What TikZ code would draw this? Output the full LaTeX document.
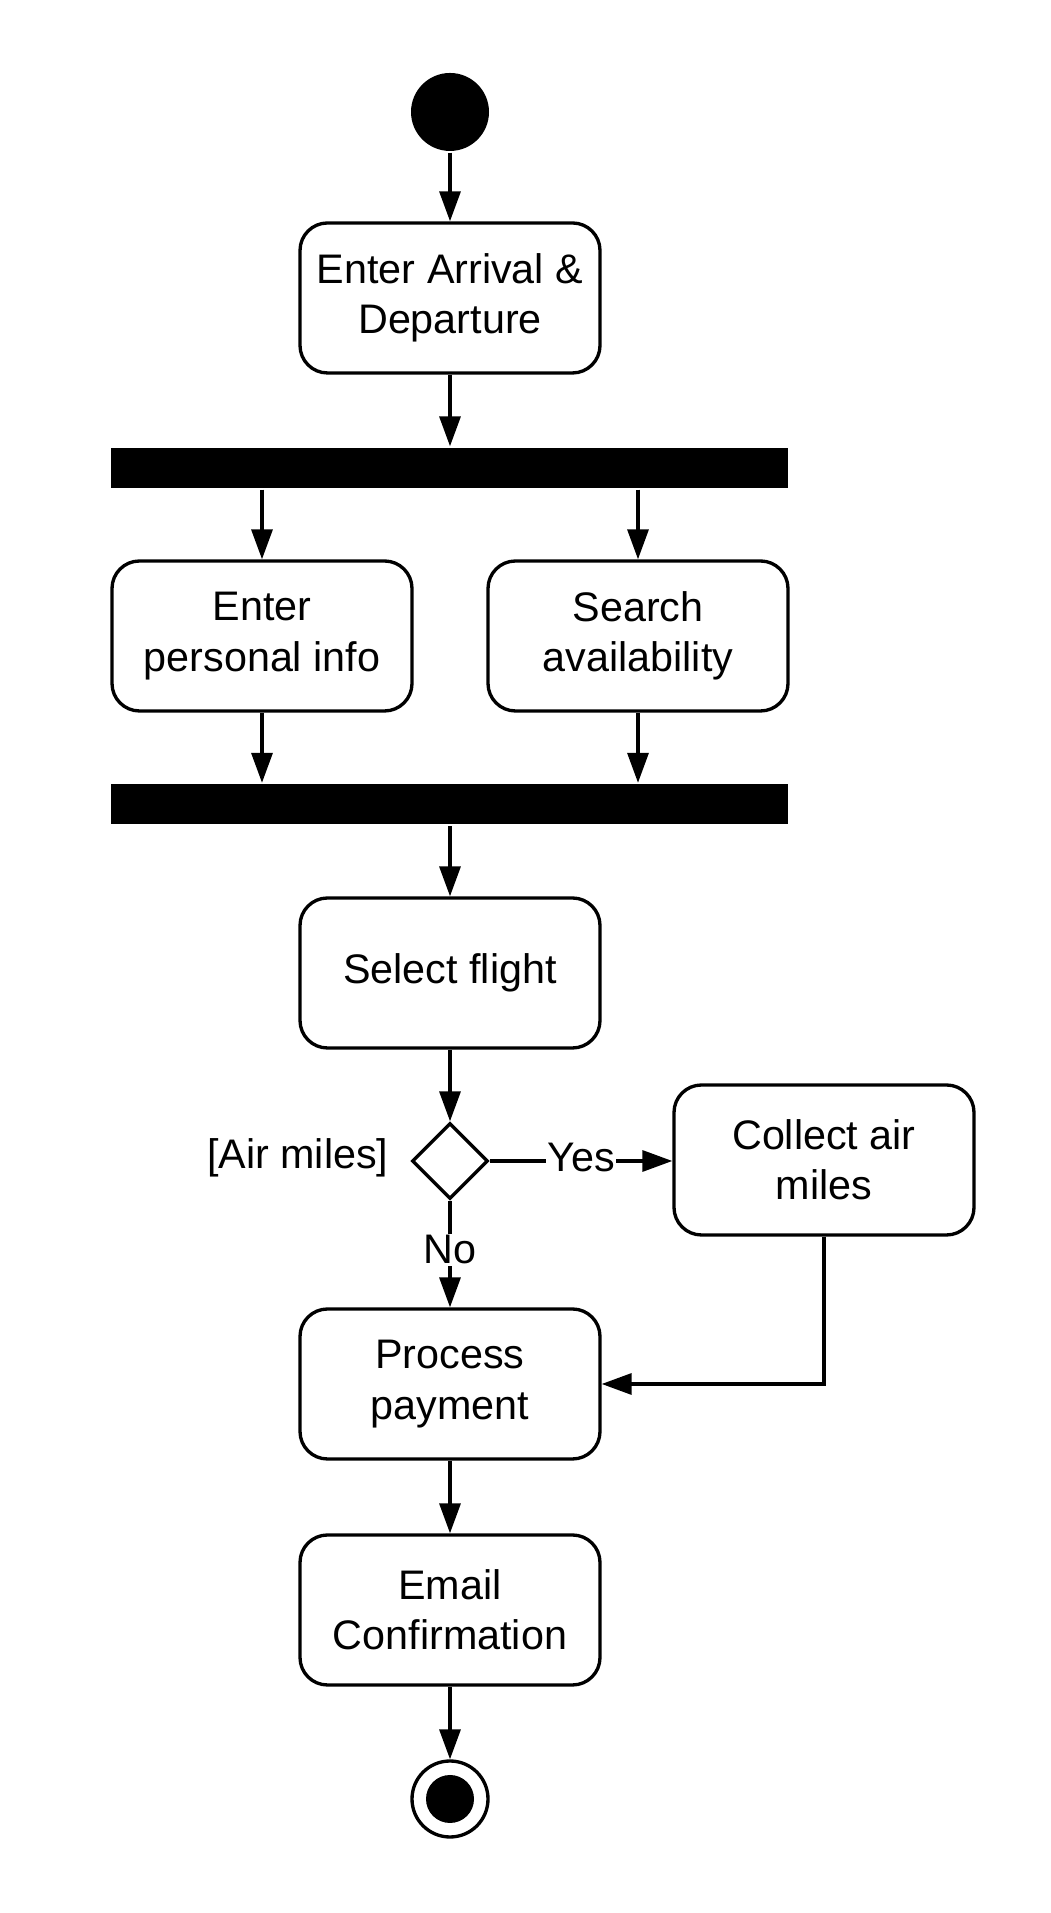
\documentclass[tikz,border=0pt]{standalone}
\usepackage{fontspec}
\setmainfont{Liberation Sans}
\usepackage{tikz}
\usetikzlibrary{shapes.geometric}
\usetikzlibrary{arrows.meta}

\begin{document}
\begin{tikzpicture}[
		line width=1.9pt,
		action/.style={draw, rectangle, rounded corners=0.55cm, minimum width=6cm, minimum height=3cm, align=center, font=\fontsize{23.5}{28.6}\selectfont},
		syncbar/.style={fill=black, rectangle, minimum width=13.54cm, minimum height=0.8cm, inner sep=0pt},
		flow/.style={-{Triangle[length=0.6cm, width=0.42cm]}},
		guard/.style={fill=white, inner sep=1pt, font=\fontsize{23.5}{28.6}\selectfont}
	]
	\useasboundingbox (0, 0) rectangle (21, 38.26);
	% Paths, nodes and wires:
	\node[circle, fill=black, minimum size=1.56cm, inner sep=0pt](start) at (9, 36.02){};
	\node[action](arrival) at (9, 32.3){Enter Arrival \&\\Departure};
	\node[syncbar](fork) at (8.99, 28.9){};
	\node[action](personal) at (5.24, 25.54){Enter\\personal info};
	\node[action](search) at (12.76, 25.54){Search\\availability};
	\node[syncbar](join) at (8.99, 22.17){};
	\node[action](select) at (9, 18.8){Select flight};
	\node[diamond, draw, minimum size=1.52cm, inner sep=0pt](airmiles) at (9, 15.04){};
	\node[guard, anchor=east, inner sep=0pt] (guardtxt) at (7.8, 15.1){[Air miles]};
	\node[action](collect) at (16.48, 15.06){Collect air\\miles};
	\node[action](payment) at (9, 10.58){Process\\payment};
	\node[action](email) at (9, 6.06){Email\\Confirmation};
	\node[circle, draw, minimum size=1.52cm, inner sep=0pt](finish) at (9, 2.28){};
	\node[circle, fill=black, minimum size=0.96cm, inner sep=0pt](finishdot) at (finish){};

	\draw[flow] (start) -- (arrival);
	\draw[flow] (arrival) -- (arrival.south |- fork.north);
	\draw[flow] (personal.north |- fork.south) -- (personal);
	\draw[flow] (search.north |- fork.south) -- (search);
	\draw[flow] (personal) -- (personal.south |- join.north);
	\draw[flow] (search) -- (search.south |- join.north);
	\draw[flow] (select.north |- join.south) -- (select);
	\draw[flow] (select) -- (airmiles);
	\draw[flow] (airmiles.east) -- node[guard, yshift=0.06cm]{Yes} (collect.west |- airmiles.east);
	\draw[flow] (airmiles.south) -- node[guard, yshift=0.08cm]{No} (payment.north);
	\draw[flow] (collect.south) |- (payment.east);
	\draw[flow] (payment) -- (email);
	\draw[flow] (email) -- (finish);
\end{tikzpicture}
\end{document}
